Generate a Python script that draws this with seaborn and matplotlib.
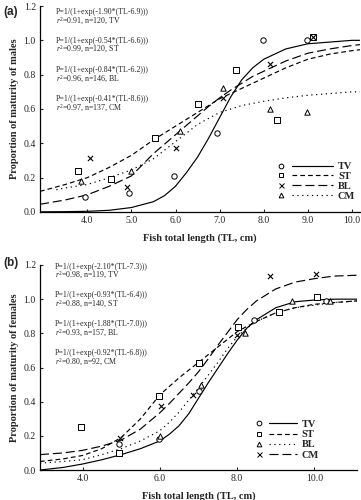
import matplotlib
matplotlib.use("Agg")
import matplotlib.pyplot as plt
import seaborn as sns
from matplotlib.lines import Line2D
from matplotlib.legend_handler import HandlerBase
from matplotlib.ticker import FormatStrFormatter

# ---------------- data: panel (a) males ----------------
a_curve_x = [2.93, 3.5, 4.0, 4.5, 5.0, 5.5, 5.75, 6.0, 6.25, 6.5, 6.75, 7.0, 7.25, 7.5, 7.75, 8.0, 8.5, 9.0, 9.5, 10.0, 10.18]
a_tv_curve = [0.001, 0.002, 0.004, 0.010, 0.026, 0.06, 0.095, 0.15, 0.23, 0.32, 0.43, 0.55, 0.67, 0.77, 0.84, 0.89, 0.95, 0.98, 0.99, 1.0, 1.0]
a_st_curve = [0.12, 0.16, 0.20, 0.26, 0.33, 0.42, 0.46, 0.50, 0.54, 0.58, 0.62, 0.66, 0.69, 0.72, 0.75, 0.78, 0.84, 0.89, 0.92, 0.94, 0.945]
a_bl_curve = [0.045, 0.07, 0.10, 0.15, 0.21, 0.34, 0.395, 0.45, 0.505, 0.56, 0.615, 0.665, 0.71, 0.75, 0.79, 0.82, 0.88, 0.925, 0.95, 0.97, 0.975]
a_cm_curve_x = [3.3, 3.5, 4.0, 4.5, 5.0, 5.5, 6.0, 6.5, 7.0, 7.5, 8.0, 8.5, 9.0, 9.5, 10.0, 10.18]
a_cm_curve = [0.13, 0.14, 0.16, 0.20, 0.245, 0.31, 0.41, 0.51, 0.58, 0.62, 0.645, 0.665, 0.68, 0.69, 0.70, 0.70]

a_tv_x = [3.96, 4.95, 5.96, 6.95, 7.98, 8.99]
a_tv_y = [0.09, 0.11, 0.21, 0.46, 1.0, 1.0]
a_st_x = [3.8, 4.54, 5.53, 6.51, 7.38, 8.3, 9.12]
a_st_y = [0.24, 0.19, 0.43, 0.63, 0.825, 0.535, 1.02]
a_bl_x = [4.06, 4.9, 6.01, 7.07, 8.14, 9.12]
a_bl_y = [0.315, 0.145, 0.37, 0.665, 0.86, 1.02]
a_cm_x = [3.87, 5.0, 6.1, 7.07, 8.14, 8.97]
a_cm_y = [0.18, 0.24, 0.47, 0.72, 0.60, 0.58]

a_texts = [
    ("P=1/(1+exp(-1.90*(TL-6.9)))", "$r^{2}$=0.91, n=120, TV"),
    ("P=1/(1+exp(-0.54*(TL-6.6)))", "$r^{2}$=0.99, n=120, ST"),
    ("P=1/(1+exp(-0.84*(TL-6.2)))", "$r^{2}$=0.96, n=146, BL"),
    ("P=1/(1+exp(-0.41*(TL-8.6)))", "$r^{2}$=0.97, n=137, CM"),
]

# ---------------- data: panel (b) females ----------------
b_curve_x = [2.9, 3.5, 4.0, 4.5, 5.0, 5.5, 6.0, 6.25, 6.5, 6.75, 7.0, 7.25, 7.5, 7.75, 8.0, 8.25, 8.5, 9.0, 9.5, 10.0, 10.5, 11.1]
b_tv_curve = [0.0, 0.015, 0.035, 0.06, 0.09, 0.125, 0.17, 0.21, 0.26, 0.33, 0.42, 0.51, 0.595, 0.68, 0.76, 0.83, 0.88, 0.95, 0.985, 0.995, 1.0, 1.0]
b_st_curve = [0.05, 0.065, 0.085, 0.125, 0.19, 0.30, 0.44, 0.49, 0.54, 0.585, 0.63, 0.675, 0.72, 0.765, 0.81, 0.84, 0.87, 0.92, 0.95, 0.97, 0.98, 0.99]
b_bl_curve = [0.04, 0.05, 0.06, 0.09, 0.125, 0.17, 0.23, 0.28, 0.34, 0.41, 0.48, 0.555, 0.63, 0.71, 0.78, 0.83, 0.87, 0.92, 0.95, 0.965, 0.98, 0.99]
b_cm_curve = [0.09, 0.10, 0.115, 0.14, 0.175, 0.24, 0.335, 0.39, 0.45, 0.51, 0.575, 0.65, 0.73, 0.805, 0.88, 0.94, 0.99, 1.06, 1.10, 1.12, 1.135, 1.14]

b_tv_x = [4.95, 5.98, 7.01, 8.44, 10.3]
b_tv_y = [0.155, 0.18, 0.46, 0.88, 0.99]
b_st_x = [3.95, 4.95, 5.98, 7.02, 8.03, 9.07, 10.07]
b_st_y = [0.25, 0.10, 0.435, 0.625, 0.84, 0.925, 1.01]
b_bl_x = [6.0, 7.06, 8.2, 9.42, 10.4]
b_bl_y = [0.20, 0.50, 0.80, 0.99, 0.99]
b_cm_x = [4.98, 6.04, 6.85, 7.99, 8.86, 10.03]
b_cm_y = [0.185, 0.375, 0.44, 0.79, 1.135, 1.147]

b_texts = [
    ("P=1/(1+exp(-2.10*(TL-7.3)))", "$r^{2}$=0.98, n=119, TV"),
    ("P=1/(1+exp(-0.93*(TL-6.4)))", "$r^{2}$=0.88, n=140, ST"),
    ("P=1/(1+exp(-1.88*(TL-7.0)))", "$r^{2}$=0.93, n=157, BL"),
    ("P=1/(1+exp(-0.92*(TL-6.8)))", "$r^{2}$=0.80, n=92, CM"),
]

y_ticks = [0.0, 0.2, 0.4, 0.6, 0.8, 1.0, 1.2]
a_x_ticks = [4.0, 5.0, 6.0, 7.0, 8.0, 9.0, 10.0]
b_x_ticks = [4.0, 6.0, 8.0, 10.0]

# ---------------- style ----------------
sns.set_style("ticks")
plt.rcParams['font.family'] = ['Liberation Serif', 'DejaVu Serif']
plt.rcParams['mathtext.fontset'] = 'custom'
plt.rcParams['mathtext.rm'] = 'Liberation Serif'
plt.rcParams['mathtext.it'] = 'Liberation Serif:italic'
plt.rcParams['lines.scale_dashes'] = False

SOLID = '-'
SHORT = (0, (3.4, 2.2))
LONG = (0, (6.5, 2.8))
DOT = (0, (0.9, 2.6))
LW = 0.85

styles = {
    'TV': dict(marker='o', ls=SOLID),
    'ST': dict(marker='s', ls=SHORT),
    'BL': dict(marker='x', ls=LONG),
    'CM': dict(marker='^', ls=DOT),
}


class MarkLine(HandlerBase):
    def __init__(self, mfrac, lstart, **kw):
        super().__init__(**kw)
        self.mfrac = mfrac
        self.lstart = lstart

    def create_artists(self, legend, orig_handle, xdescent, ydescent,
                       width, height, fontsize, trans):
        mk, ln = orig_handle
        y = height / 2 - ydescent
        x0 = -xdescent
        m = Line2D([x0 + self.mfrac * width], [y])
        m.update_from(mk)
        l = Line2D([x0 + self.lstart * width, x0 + width], [y, y])
        l.update_from(ln)
        m.set_transform(trans)
        l.set_transform(trans)
        return [m, l]


def scatter(ax, xs, ys, marker):
    if marker == 'x':
        sns.scatterplot(x=xs, y=ys, ax=ax, marker='x', s=14, color='black',
                        linewidth=0.8, zorder=4)
    else:
        sms = {'o': 15, 's': 13, '^': 15}[marker]
        sns.scatterplot(x=xs, y=ys, ax=ax, marker=marker, s=sms, color='white',
                        edgecolor='black', linewidth=0.7, zorder=4)


def curve(ax, xs, ys, ls):
    sns.lineplot(x=xs, y=ys, ax=ax, color='black', linewidth=LW, linestyle=ls,
                 zorder=3, estimator=None, sort=False)


def make_handle(name, mk, ls):
    msize = 3.4 if mk != 'x' else 3.6
    mh = Line2D([], [], linestyle='none', marker=mk, markersize=msize,
                markerfacecolor='white', markeredgecolor='black',
                markeredgewidth=0.7, color='black')
    lh = Line2D([], [], linestyle=ls, color='black', linewidth=LW)
    return (mh, lh)


def style_axes(ax, xlim, xticks, ylabel):
    ax.set_xlim(*xlim)
    ax.set_ylim(0, 1.2)
    ax.set_xticks(xticks)
    ax.set_yticks(y_ticks)
    ax.xaxis.set_major_formatter(FormatStrFormatter('%.1f'))
    ax.yaxis.set_major_formatter(FormatStrFormatter('%.1f'))
    ax.tick_params(direction='in', length=2.5, width=0.8, labelsize=7, pad=3)
    for s in ['top', 'right']:
        ax.spines[s].set_visible(False)
    for s in ['left', 'bottom']:
        ax.spines[s].set_linewidth(0.9)
        ax.spines[s].set_color('black')
    ax.set_xlabel("Fish total length (TL, cm)", fontsize=7.5, fontweight='bold', labelpad=6)
    ax.set_ylabel(ylabel, fontsize=7.5, fontweight='bold', labelpad=3)


fig = plt.figure(figsize=(3.61, 5.0), dpi=100)

# ---------------- panel (a) ----------------
axa = fig.add_axes([40 / 361, 1 - 212 / 500, 320 / 361, 206 / 500])
curve(axa, a_curve_x, a_tv_curve, SOLID)
curve(axa, a_curve_x, a_st_curve, SHORT)
curve(axa, a_curve_x, a_bl_curve, LONG)
curve(axa, a_cm_curve_x, a_cm_curve, DOT)
scatter(axa, a_tv_x, a_tv_y, 'o')
scatter(axa, a_st_x, a_st_y, 's')
scatter(axa, a_bl_x, a_bl_y, 'x')
scatter(axa, a_cm_x, a_cm_y, '^')
style_axes(axa, (2.93, 10.18), a_x_ticks, "Proportion of maturity of males")

a_text_y = [1.165, 0.998, 0.826, 0.658]
for (l1, l2), ty in zip(a_texts, a_text_y):
    axa.text(3.29, ty, l1, fontsize=5.7, va='center', ha='left')
    axa.text(3.29, ty - 0.052, l2, fontsize=5.7, va='center', ha='left')

a_order = ['TV', 'ST', 'BL', 'CM']
ha = [make_handle(n, styles[n]['marker'], styles[n]['ls']) for n in a_order]
axa.legend(ha, a_order, loc='lower right', bbox_to_anchor=(0.985, 0.055),
           frameon=False, handler_map={tuple: MarkLine(0.06, 0.27)},
           handlelength=5.3, handleheight=0.7, handletextpad=0.5,
           labelspacing=0.05, borderpad=0, borderaxespad=0,
           prop={'size': 7.5, 'weight': 'bold'})
axa.text(-0.115, 1.0, "(a)", transform=axa.transAxes, fontsize=8.5,
         fontweight='bold', family=['Liberation Sans', 'DejaVu Sans'],
         va='top', ha='left')

# ---------------- panel (b) ----------------
axb = fig.add_axes([40 / 361, 1 - 470 / 500, 317 / 361, 205 / 500])
curve(axb, b_curve_x, b_tv_curve, SOLID)
curve(axb, b_curve_x, b_st_curve, SHORT)
curve(axb, b_curve_x, b_bl_curve, DOT)
curve(axb, b_curve_x, b_cm_curve, LONG)
scatter(axb, b_tv_x, b_tv_y, 'o')
scatter(axb, b_st_x, b_st_y, 's')
scatter(axb, b_bl_x, b_bl_y, '^')
scatter(axb, b_cm_x, b_cm_y, 'x')
style_axes(axb, (2.9, 11.1), b_x_ticks, "Proportion of maturity of females")

b_text_y = [1.19, 1.025, 0.855, 0.683]
for (l1, l2), ty in zip(b_texts, b_text_y):
    axb.text(3.29, ty, l1, fontsize=5.7, va='center', ha='left')
    axb.text(3.29, ty - 0.053, l2, fontsize=5.7, va='center', ha='left')

b_styles = {
    'TV': ('o', SOLID), 'ST': ('s', SHORT), 'BL': ('^', DOT), 'CM': ('x', LONG),
}
b_order = ['TV', 'ST', 'BL', 'CM']
hb = [make_handle(n, b_styles[n][0], b_styles[n][1]) for n in b_order]
axb.legend(hb, b_order, loc='lower right', bbox_to_anchor=(0.88, 0.05),
           frameon=False, handler_map={tuple: MarkLine(0.08, 0.33)},
           handlelength=3.9, handleheight=0.75, handletextpad=0.5,
           labelspacing=0.08, borderpad=0, borderaxespad=0,
           prop={'size': 7.5, 'weight': 'bold'})
axb.text(-0.115, 1.04, "(b)", transform=axb.transAxes, fontsize=8.5,
         fontweight='bold', family=['Liberation Sans', 'DejaVu Sans'],
         va='top', ha='left')

fig.savefig("out.png", dpi=100)
